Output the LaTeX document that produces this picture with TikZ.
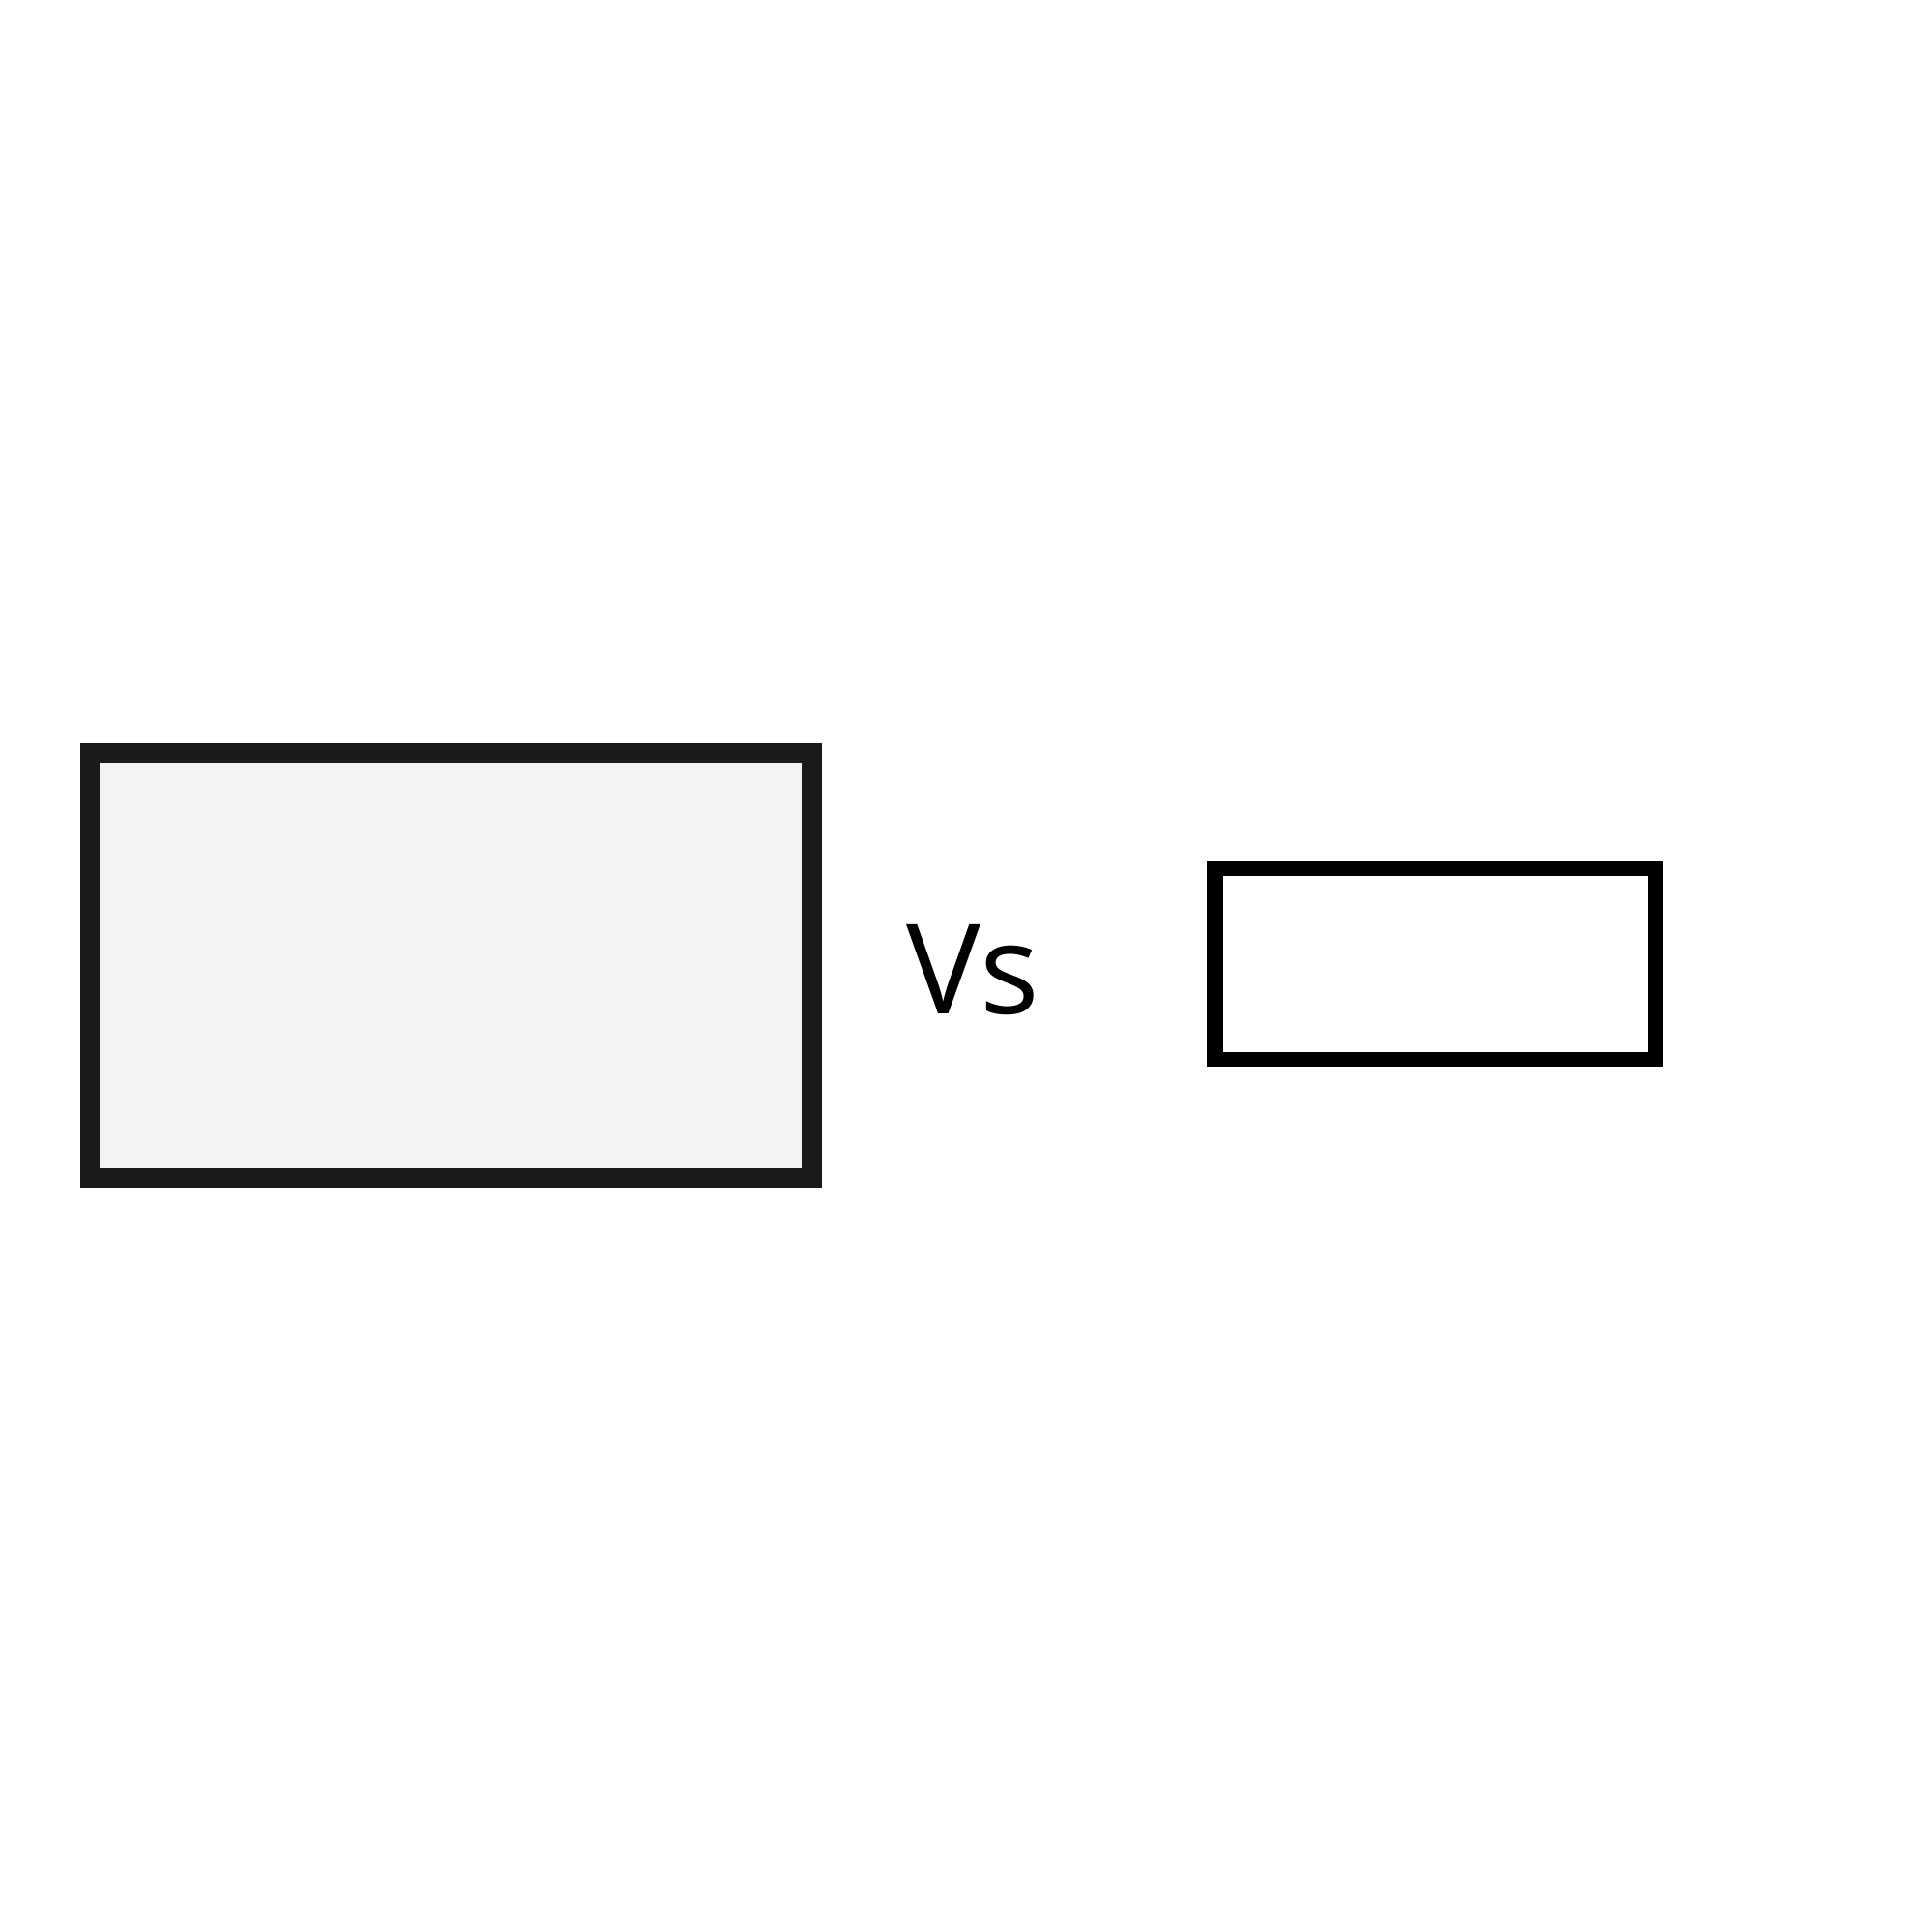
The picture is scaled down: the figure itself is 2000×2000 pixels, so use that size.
\documentclass[tikz,border=0pt]{standalone}
\usepackage{fontspec}
\setmainfont{Open Sans}
\definecolor{boxfill}{HTML}{F3F3F3}
\definecolor{boxline}{HTML}{1A1A1A}
\begin{document}
\begin{tikzpicture}[x=0.01cm,y=-0.01cm,
  bigbox/.style={draw=boxline,fill=boxfill,line width=0.21cm,minimum width=7.47cm,minimum height=4.40cm,inner sep=0pt,line join=miter},
  smallbox/.style={draw=black,fill=white,line width=0.155cm,minimum width=4.56cm,minimum height=1.98cm,inner sep=0pt,line join=miter},
  vslabel/.style={inner sep=0pt,font=\fontsize{36.7}{40}\selectfont}]
\useasboundingbox (0,0) rectangle (2000,2000);
\node[bigbox] (left) at (467,999.5) {};
\node[smallbox] (right) at (1486,998) {};
\node[vslabel,anchor=base] (vs) at (1007,1049) {Vs};
\end{tikzpicture}
\end{document}
